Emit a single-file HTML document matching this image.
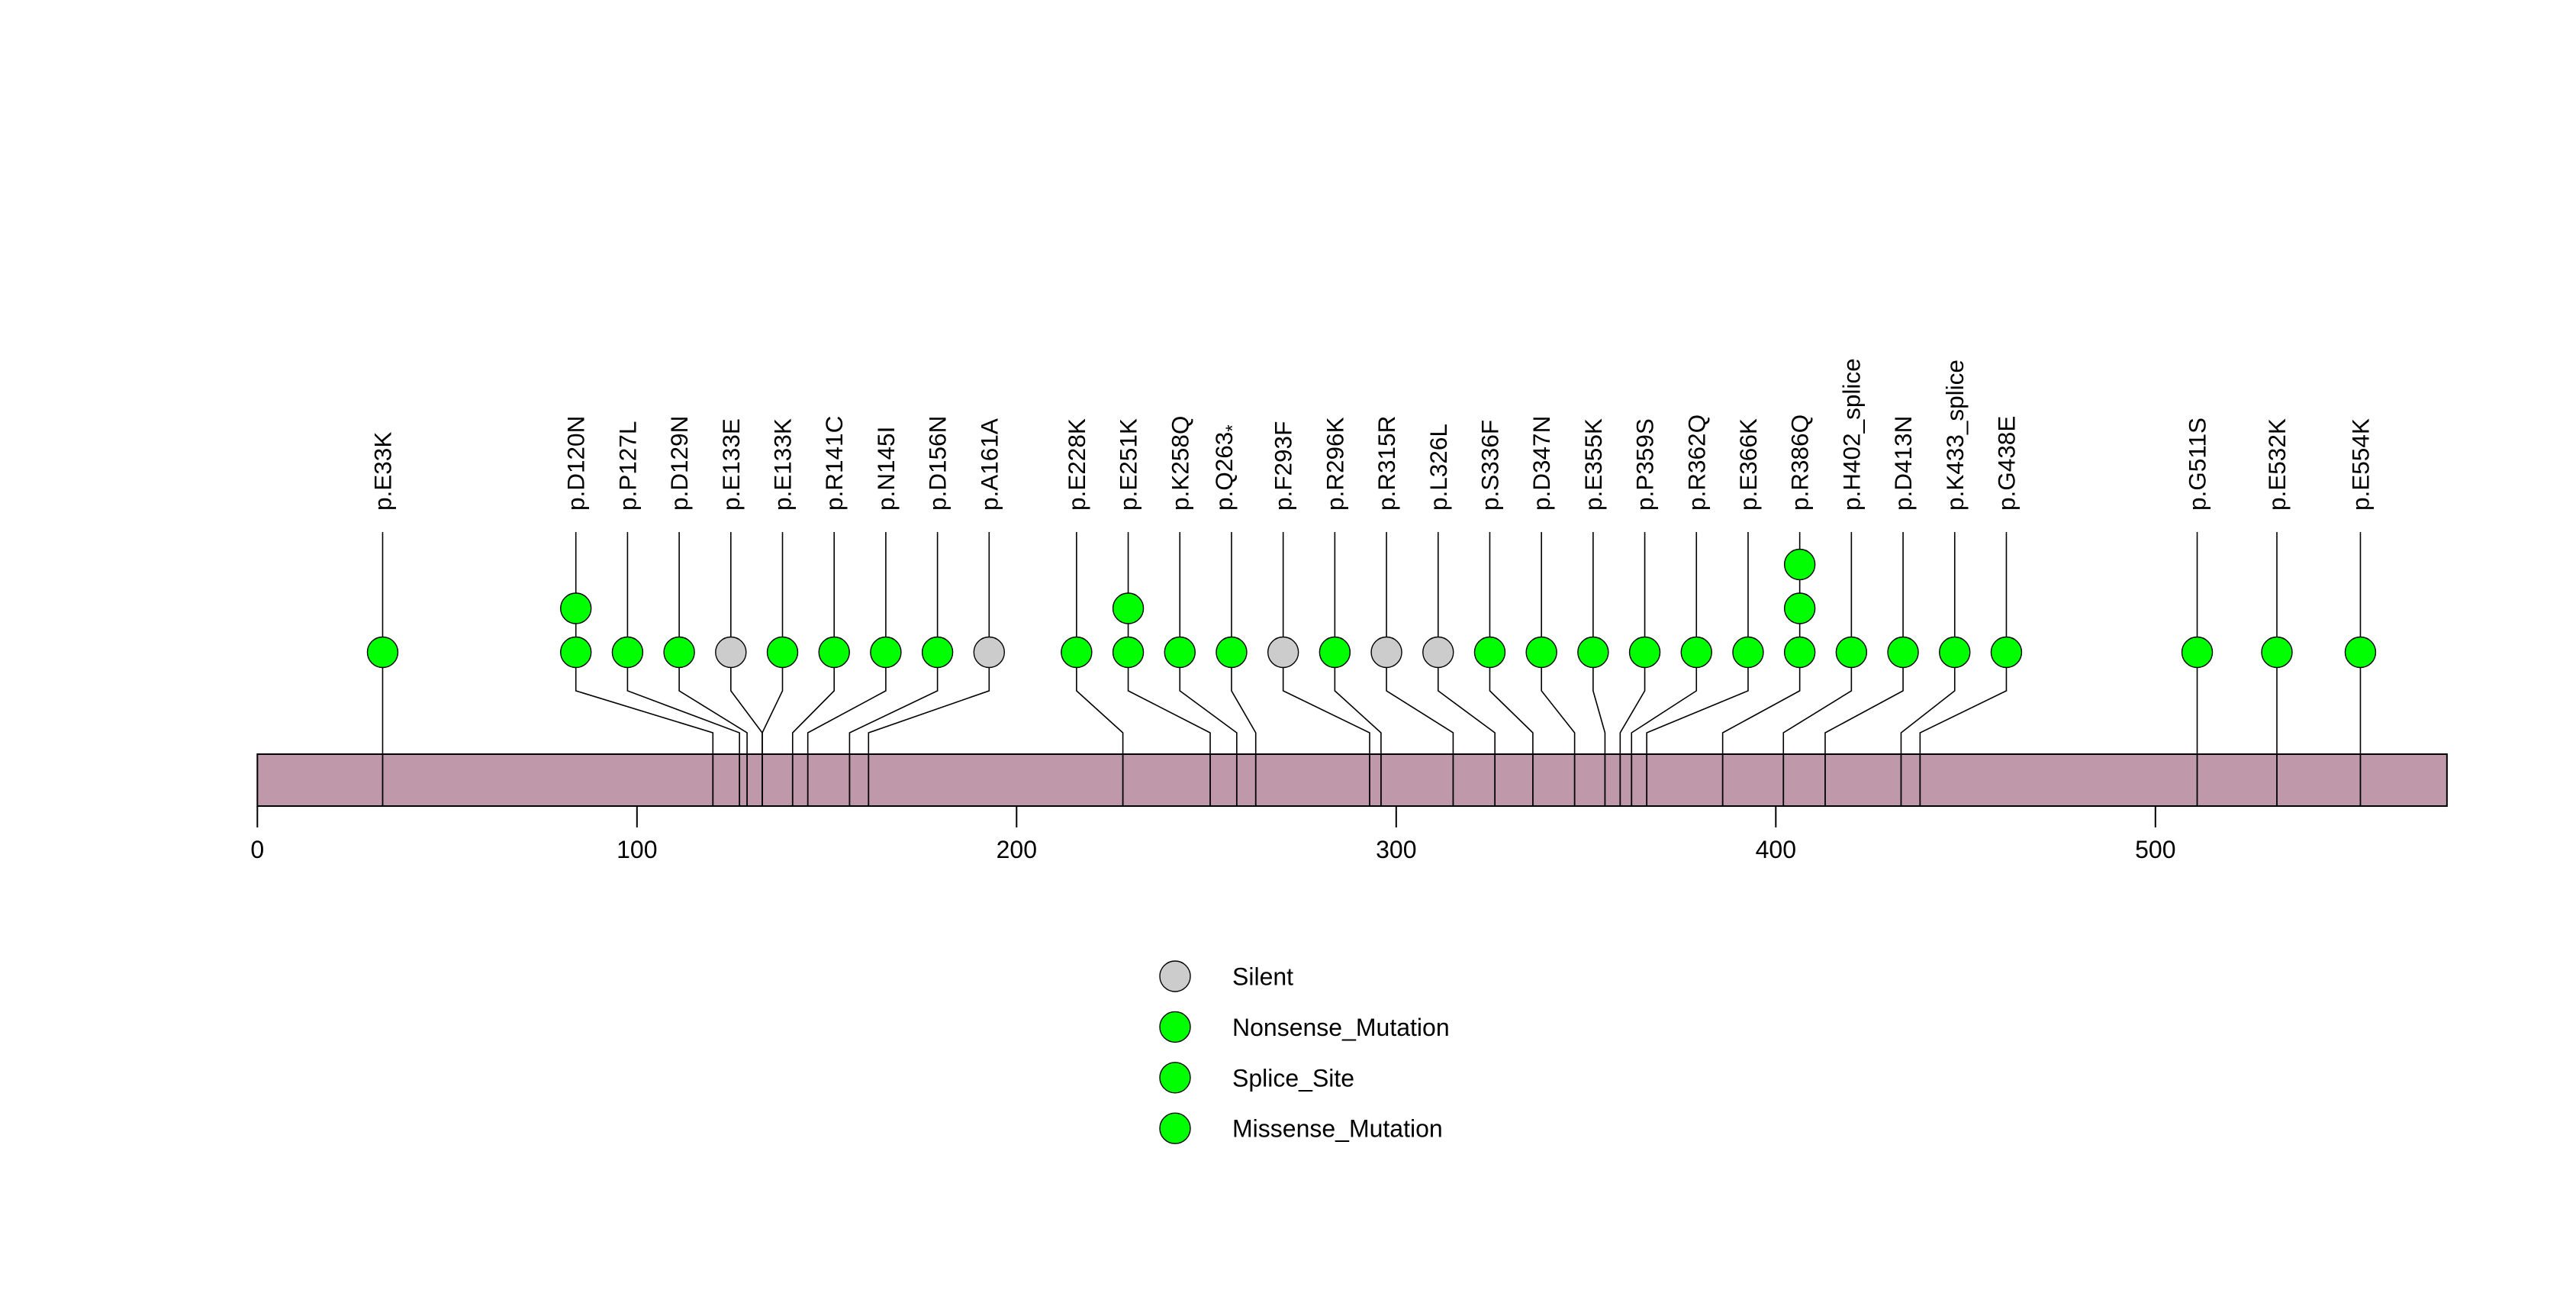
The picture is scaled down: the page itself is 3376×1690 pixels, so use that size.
<!DOCTYPE html>
<html><head><meta charset="utf-8"><style>
html,body{margin:0;padding:0;background:#fff;}
svg{display:block;font-family:"Liberation Sans",sans-serif;}
</style></head><body>
<svg id="chart" width="3376" height="1690" viewBox="0 0 3376 1690" xmlns="http://www.w3.org/2000/svg">
<rect x="0" y="0" width="3376" height="1690" fill="#fff"/>
<g id="connectors"></g>
<rect id="protein" x="337.3" y="988" width="2875" height="68" fill="#bf99aa" stroke="#000" stroke-width="2"/>
<g id="barlines"></g>
<g id="axis"></g>
<g id="circles"></g>
<g id="labels"></g>
<g id="legend"></g>
</svg>
<script>
const positions = [33,120,127,129,133,133,141,145,156,161,228,251,258,263,293,296,315,326,336,347,355,359,362,366,386,402,413,433,438,511,532,554];
const mutLabels = ["p.E33K","p.D120N","p.P127L","p.D129N","p.E133E","p.E133K","p.R141C","p.N145I","p.D156N","p.A161A","p.E228K","p.E251K","p.K258Q","p.Q263*","p.F293F","p.R296K","p.R315R","p.L326L","p.S336F","p.D347N","p.E355K","p.P359S","p.R362Q","p.E366K","p.R386Q","p.H402_splice","p.D413N","p.K433_splice","p.G438E","p.G511S","p.E532K","p.E554K"];
const counts = [1,2,1,1,1,1,1,1,1,1,1,2,1,1,1,1,1,1,1,1,1,1,1,1,3,1,1,1,1,1,1,1];
const mutTypes = ["M","M","M","M","S","M","M","M","M","S","M","M","M","N","S","M","S","S","M","M","M","M","M","M","M","P","M","P","M","M","M","M"];
const proteinLength = 576.8;
const axisTicks = [0,100,200,300,400,500];
const legendLabels = ["Silent","Nonsense_Mutation","Splice_Site","Missense_Mutation"];
const legendTypes = ["S","N","P","M"];

const NS="http://www.w3.org/2000/svg";
const X0=337.3, K=4.975;
const xs = p => X0 + p*K;
const fillOf = t => t==="S" ? "#cccccc" : "#00ff00";
const ROW0=854.5, ROWD=57.5, R=20;
const STEM_TOP=697, KINK_TOP=905, KINK_BOT=960, BAR_TOP=988, BAR_BOT=1056;
const GAP=67.7;
function mk(tag, attrs, parent){const e=document.createElementNS(NS,tag);for(const k in attrs)e.setAttribute(k,attrs[k]);parent.appendChild(e);return e;}

document.getElementById('protein').setAttribute('width', xs(proteinLength)-X0);

let groups = positions.map((p,i)=>({sum:xs(p),n:1,idx:[i]}));
let changed=true;
while(changed){changed=false;
  for(let i=1;i<groups.length;i++){
    const a=groups[i-1], b=groups[i];
    const aEnd=a.sum/a.n+(a.n-1)*GAP/2, bStart=b.sum/b.n-(b.n-1)*GAP/2;
    if(bStart < aEnd+GAP-0.01){a.sum+=b.sum;a.n+=b.n;a.idx=a.idx.concat(b.idx);groups.splice(i,1);changed=true;break;}
  }
}
const labelX=[];
groups.forEach(g=>{const s=g.sum/g.n-(g.n-1)*GAP/2;g.idx.forEach((id,j)=>labelX[id]=s+j*GAP);});

const gC=document.getElementById('connectors'), gB=document.getElementById('barlines'),
      gCi=document.getElementById('circles'), gL=document.getElementById('labels'),
      gA=document.getElementById('axis'), gLg=document.getElementById('legend');

positions.forEach((p,i)=>{
  const px=xs(p), lx=labelX[i];
  const pl=mk('polyline',{points:`${lx},${STEM_TOP} ${lx},${KINK_TOP} ${px},${KINK_BOT} ${px},${BAR_TOP}`,fill:'none',stroke:'#000','stroke-width':1.6},gC);
  
  
  const bl=mk('line',{x1:px,y1:BAR_TOP,x2:px,y2:BAR_BOT,stroke:'#000','stroke-width':1.8},gB);
  
  
  for(let k=0;k<counts[i];k++){
    const c=mk('circle',{cx:lx,cy:ROW0-k*ROWD,r:R,fill:fillOf(mutTypes[i]),stroke:'#000','stroke-width':1.4},gCi);
    
    
  }
  const star = mutLabels[i].endsWith('*');
  const t=mk('text',{x:0,y:0,'font-size':31.5,'text-anchor':'start',transform:`translate(${star?lx+1:lx+11},669) rotate(-90)`},gL);
  
  
  if(star){
    t.textContent=mutLabels[i].slice(0,-1);
    const sp=mk('tspan',{dy:8,'font-size':24},t);sp.textContent='*';
  } else t.textContent=mutLabels[i];
});

const axl=mk('line',{x1:xs(axisTicks[0]),y1:BAR_BOT,x2:xs(axisTicks[axisTicks.length-1]),y2:BAR_BOT,stroke:'#000','stroke-width':2},gA);


axisTicks.forEach(v=>{
  const tk=mk('line',{x1:xs(v),y1:BAR_BOT,x2:xs(v),y2:1084,stroke:'#000','stroke-width':2},gA);
  
  
  const tl=mk('text',{x:xs(v),y:1124,'font-size':32,'text-anchor':'middle'},gA);
  
  
  tl.textContent=v;
});

legendLabels.forEach((lab,i)=>{
  const cy=1279+i*66.4;
  const c=mk('circle',{cx:1540,cy:cy,r:20,fill:fillOf(legendTypes[i]),stroke:'#000','stroke-width':1.4},gLg);
  
  
  const t=mk('text',{x:1615,y:cy+11.5,'font-size':32},gLg);
  
  
  t.textContent=lab;
});
</script>
</body></html>
